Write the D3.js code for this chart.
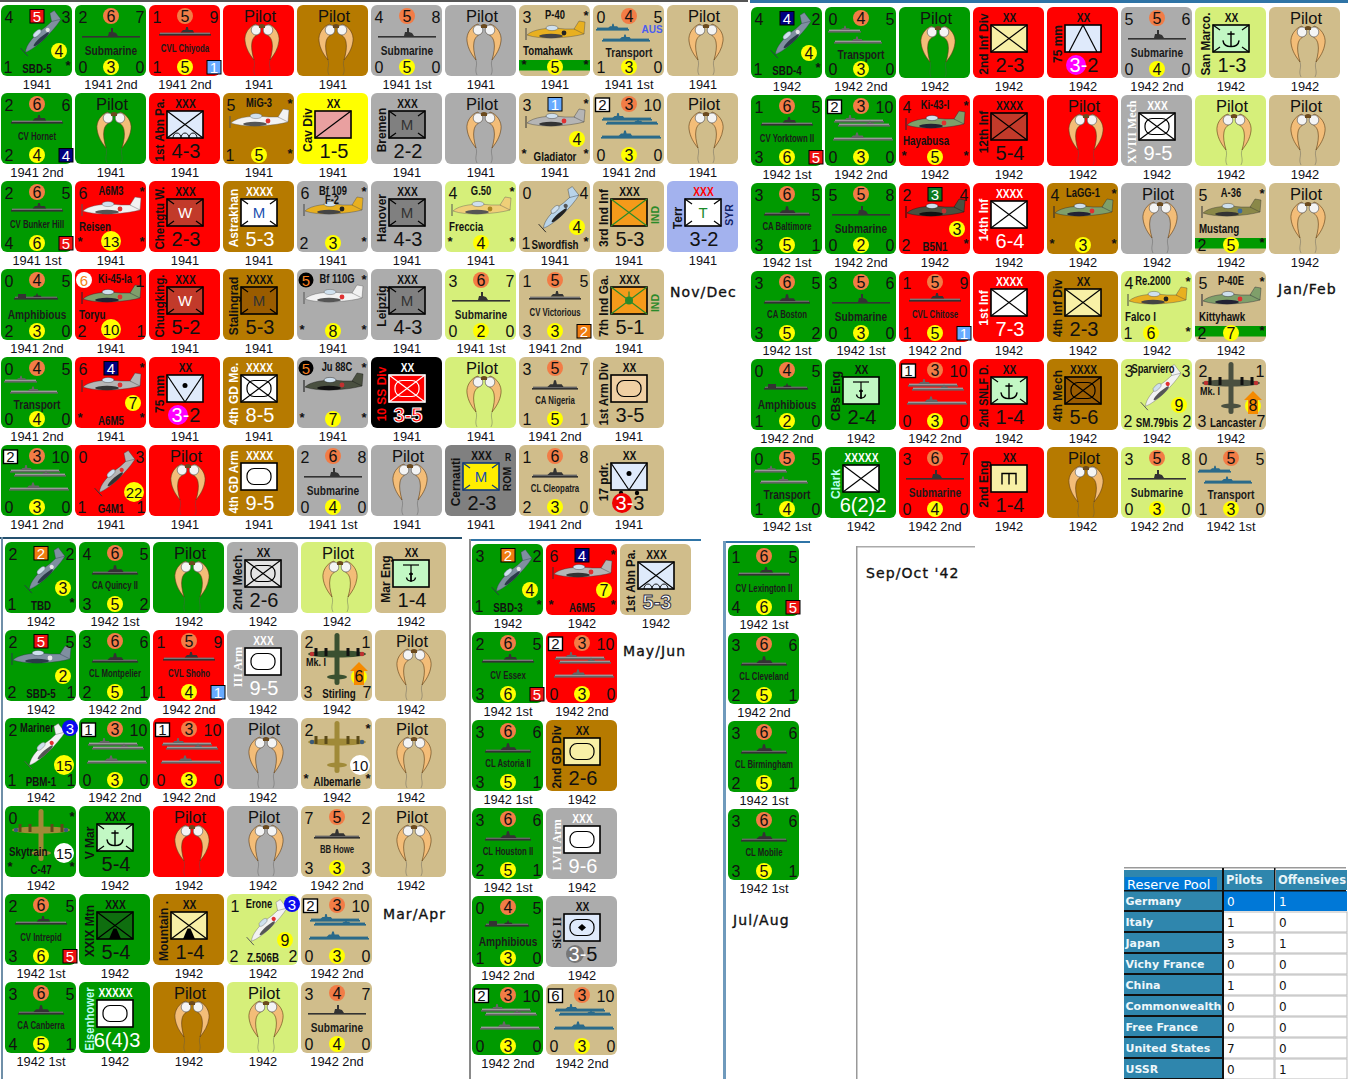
<!DOCTYPE html>
<html><head><meta charset="utf-8">
<script src="https://cdn.jsdelivr.net/npm/d3@7/dist/d3.min.js"></script>
<style>html,body{margin:0;padding:0;background:#fff}svg{display:block}</style>
</head><body><svg id="c" width="1348" height="1079"></svg>
<script>
// ---------- DATA ----------
const nations = ["us","jp","su","de","cw","it","cn","fr","ss","ro"];
const nationColors = ["#009a00","#ff0000","#b67a00","#acacac","#d0bd8b","#d6ef7a","#ffff00","#a3b2ee","#000000","#808080"];

// Ship tuple: S, nation, year, TL, offence, TR, BL, defence, BR, name, hull, badge
const novDec = [
[{k:"F",n:"us",y:"1941",tl:4,tr:3,bl:1,br:"*",bot:"SBD-5",yv:4,yp:"r",b:5,sh:"diag",p:"slate"},
 ["S","us","1941 2nd",2,6,7,0,3,0,"Submarine","sub"],
 ["S","jp","1941 2nd",1,5,9,1,5,"","CVL Chiyoda","cv",1],
 ["P","jp","1941"],["P","su","1941"],
 ["S","de","1941 1st",4,5,8,0,5,0,"Submarine","sub"],
 ["P","de","1941"],
 {k:"F",n:"cw",y:"1941",tl:3,tr:"*",top:"P-40",mid:"Tomahawk",yv:5,yp:"c",band:1,bls:"*",brs:"*",sh:"side",p:"camo"},
 ["S","cw","1941 1st",0,4,5,1,3,0,"Transport","tr",null,"AUS"],
 ["P","cw","1941"]],
[["S","us","1941 2nd",2,6,6,2,4,"","CV Hornet","cv",4],
 ["P","us","1941"],
 {k:"A",n:"jp",y:"1941",l:"1st Abn Pa.",z:"XXX",f:"#dfeafb",s:"abn",v:"4-3"},
 {k:"F",n:"su",y:"1941",tl:5,tr:"*",top:"MiG-3",bl:1,br:"*",yv:5,yp:"c",sh:"side",p:"white"},
 {k:"A",n:"cn",y:"1941",l:"Cav Div",z:"XX",f:"#e9a0a0",s:"cav",v:"1-5"},
 {k:"A",n:"de",y:"1941",l:"Bremen",z:"XXX",f:"#808080",s:"let",t:"M",tc:"#333",v:"2-2"},
 ["P","de","1941"],
 {k:"F",n:"cw",y:"1941",tl:3,tr:"*",bl:"*",br:"*",bot:"Gladiator",yv:4,yp:"r",b:1,sh:"side",p:"gray"},
 ["S","cw","1941 2nd",2,3,10,0,3,0,"","tr2",null,null,1],
 ["P","cw","1941"]],
[["S","us","1941 1st",2,6,5,4,6,"","CV Bunker Hill","cv",5],
 {k:"F",n:"jp",y:"1941",tl:6,tr:"*",top:"A6M3",mid:"Reisen",bl:"*",br:"*",yv:13,yp:"c",sh:"side",p:"white"},
 {k:"A",n:"jp",y:"1941",l:"Chengtu W.",z:"XXX",f:"#c23a2a",s:"let",t:"W",tc:"#fff",v:"2-3"},
 {k:"A",n:"su",y:"1941",l:"Astrakhan",lc:"#fff",z:"XXXX",zc:"#fff",f:"#fff",s:"let",t:"M",tc:"#1a50b0",v:"5-3",vc:"#fff"},
 {k:"F",n:"de",y:"1941",tl:6,tr:"*",top:"Bf 109",top2:"F-2",bl:2,br:"*",yv:3,yp:"c",sh:"side",p:"camo"},
 {k:"A",n:"de",y:"1941",l:"Hanover",z:"XXX",f:"#808080",s:"let",t:"M",tc:"#333",v:"4-3"},
 {k:"F",n:"it",y:"1941",tl:4,tr:"*",top:"G.50",mid:"Freccia",bl:"*",br:"*",yv:4,yp:"c",sh:"side",p:"tan"},
 {k:"F",n:"cw",y:"1941",tl:0,tr:4,bl:1,br:"*",bot:"Swordfish",yv:4,yp:"r",sh:"diag",p:"pale"},
 {k:"A",n:"cw",y:"1941",l:"3rd Ind Inf",z:"XXX",f:"#f59a1a",s:"inf",lc2:"#2a8a2a",v:"5-3",side:"IND",sc:"#2a8a2a"},
 {k:"A",n:"fr",y:"1941",l:"Terr",z:"XXX",zc:"#f00",f:"#fff",s:"let",t:"T",tc:"#1a8a2a",v:"3-2",side:"SYR",sc:"#112266"}],
[["S","us","1941 2nd",0,4,5,2,3,0,"Amphibious","am"],
 {k:"F",n:"jp",y:"1941",wc:6,top:"Ki-45-Ia",tr:1,mid:"Toryu",bl:2,br:1,yv:10,yp:"c",sh:"side",p:"green"},
 {k:"A",n:"jp",y:"1941",l:"Chungking.",z:"XXX",f:"#c23a2a",s:"let",t:"W",tc:"#fff",v:"5-2"},
 {k:"A",n:"su",y:"1941",l:"Stalingrad",z:"XXXX",f:"#9a5c00",s:"let",t:"M",tc:"#333",v:"5-3"},
 {k:"F",n:"de",y:"1941",kc:5,top:"Bf 110G",tr:"*",bl:"*",br:"*",yv:8,yp:"c",sh:"side",p:"white"},
 {k:"A",n:"de",y:"1941",l:"Leipzig",z:"XXX",f:"#808080",s:"let",t:"M",tc:"#333",v:"4-3"},
 ["S","it","1941 1st",3,6,7,0,2,0,"Submarine","sub"],
 ["S","cw","1941 2nd",1,5,5,3,3,"","CV Victorious","cv",2],
 {k:"A",n:"cw",y:"1941",l:"7th Ind Ga.",z:"XXX",f:"#f59a1a",s:"gd",lc2:"#2a8a2a",v:"5-1",side:"IND",sc:"#2a8a2a"}],
[["S","us","1941 2nd",0,4,5,0,4,0,"Transport","tr"],
 {k:"F",n:"jp",y:"1941",tl:6,tr:"*",bl:"*",br:"*",bot:"A6M5",yv:7,yp:"r",b:4,sh:"side",p:"gray"},
 {k:"A",n:"jp",y:"1941",l:"75 mm",z:"XX",f:"#dfeafb",s:"artV",v:"3-2",cc:"#ff00ff"},
 {k:"A",n:"su",y:"1941",l:"4th GD Me.",lc:"#fff",z:"XXXX",zc:"#fff",f:"#fff",s:"mech",v:"8-5",vc:"#fff"},
 {k:"F",n:"de",y:"1941",kc:5,top:"Ju 88C",tr:"*",bl:"*",br:"*",yv:7,yp:"c",sh:"side",p:"dark"},
 {k:"A",n:"ss",y:"1941",l:"10 SS Div",lc:"#f00",z:"XX",zc:"#fff",f:"#f00",s:"mech",lc2:"#fff",bc:"#fff",v:"3-5",vc:"#f00",ol:"#fff"},
 ["P","it","1941"],
 ["S","cw","1941 2nd",3,5,7,1,5,1,"CA Nigeria","ca"],
 {k:"A",n:"cw",y:"1941",l:"1st Arm Div",z:"XX",f:"#f0d0a4",s:"arm",v:"3-5"}],
[["S","us","1941 2nd",2,3,10,0,3,0,"","tr2",null,null,1],
 {k:"F",n:"jp",y:"1941",tl:0,tr:3,bl:1,br:1,bot:"G4M1",yv:22,yp:"r",sh:"diag",p:"gray"},
 ["P","jp","1941"],
 {k:"A",n:"su",y:"1941",l:"4th GD Arm",lc:"#fff",z:"XXXX",zc:"#fff",f:"#fff",s:"arm",v:"9-5",vc:"#fff"},
 ["S","de","1941 1st",2,6,8,0,4,0,"Submarine","sub"],
 ["P","de","1941"],
 {k:"A",n:"ro",y:"1941",l:"Cernauti",z:"XXX",f:"#ffee00",bc:"#123a7a",s:"let",t:"M",tc:"#1a50b0",v:"2-3",side:"ROM",sc:"#111",sideTop:"R"},
 ["S","cw","1941 2nd",1,6,8,2,3,0,"CL Cleopatra","ca"],
 {k:"A",n:"cw",y:"1941",l:"17 pdr.",z:"XX",f:"#dfeafb",s:"atk",v:"3-3",cc:"#f00000"}]
];

const janFeb = [
[{k:"F",n:"us",y:"1942",tl:4,tr:2,bl:1,br:"*",bot:"SBD-4",yv:4,yp:"r",b:4,sh:"diag",p:"slate"},
 ["S","us","1942 2nd",0,4,5,0,3,0,"Transport","tr"],
 ["P","us","1942"],
 {k:"A",n:"jp",y:"1942",l:"2nd Inf Div",z:"XX",f:"#f8f0a6",s:"inf",v:"2-3"},
 {k:"A",n:"jp",y:"1942",l:"75 mm",z:"XX",f:"#dfeafb",s:"artA",v:"3-2",cc:"#ff00ff"},
 ["S","de","1942 2nd",5,5,6,0,4,0,"Submarine","sub"],
 {k:"A",n:"it",y:"1942",l:"San Marco.",z:"XX",f:"#c2f8c4",s:"anc",v:"1-3"},
 ["P","cw","1942"]],
[["S","us","1942 1st",1,6,5,3,6,"","CV Yorktown II","cv",5],
 ["S","us","1942 2nd",2,3,10,0,3,0,"","tr2",null,null,1],
 {k:"F",n:"jp",y:"1942",tl:4,tr:"*",top:"Ki-43-I",mid:"Hayabusa",bl:"*",br:"*",yv:5,yp:"c",sh:"side",p:"green"},
 {k:"A",n:"jp",y:"1942",l:"12th Inf",z:"XXXX",f:"#c23a2a",s:"inf",v:"5-4"},
 ["P","jp","1942"],
 {k:"A",n:"de",y:"1942",l:"XVIII Mech",serif:1,lc:"#fff",z:"XXX",zc:"#fff",f:"#fff",s:"mech",v:"9-5",vc:"#fff"},
 ["P","it","1942"],
 ["P","cw","1942"]],
[["S","us","1942 1st",3,6,5,3,5,1,"CA Baltimore","ca"],
 ["S","us","1942 2nd",5,5,8,0,2,0,"Submarine","sub"],
 {k:"F",n:"jp",y:"1942",tl:2,tr:4,bl:2,br:"*",bot:"B5N1",yv:3,yp:"r",b:3,sh:"side",p:"dark"},
 {k:"A",n:"jp",y:"1942",l:"14th Inf",lc:"#fff",z:"XXXX",zc:"#fff",f:"#fff",s:"inf",v:"6-4",vc:"#fff"},
 {k:"F",n:"su",y:"1942",tl:4,tr:"*",top:"LaGG-1",bl:"*",br:"*",yv:3,yp:"c",sh:"side",p:"green"},
 ["P","de","1942"],
 {k:"F",n:"cw",y:"1942",tl:5,tr:"*",top:"A-36",mid:"Mustang",bl:2,brs:"*",yv:5,yp:"c",band:1,sh:"side",p:"olive"},
 ["P","cw","1942"]],
[["S","us","1942 1st",3,6,5,3,5,2,"CA Boston","ca"],
 ["S","us","1942 1st",3,5,6,0,3,0,"Submarine","sub"],
 ["S","jp","1942 2nd",1,5,9,1,5,"","CVL Chitose","cv",1],
 {k:"A",n:"jp",y:"1942",l:"1st Inf",lc:"#fff",z:"XXXX",zc:"#fff",f:"#fff",s:"inf",v:"7-3",vc:"#fff"},
 {k:"A",n:"su",y:"1942",l:"4th Inf Div",z:"XX",f:"#f8f0a6",s:"inf",v:"2-3"},
 {k:"F",n:"it",y:"1942",tl:4,tr:"*",top:"Re.2000",mid:"Falco I",bl:1,br:"*",yv:6,yp:"l",sh:"side",p:"camo"},
 {k:"F",n:"cw",y:"1942",tl:5,tr:"*",top:"P-40E",mid:"Kittyhawk",bl:2,brs:"*",yv:7,yp:"c",band:1,sh:"side",p:"green"}],
[["S","us","1942 2nd",0,4,5,1,2,0,"Amphibious","am"],
 {k:"A",n:"us",y:"1942",l:"CBs Eng",z:"XX",f:"#c2f8c4",s:"eanc",v:"2-4"},
 ["S","jp","1942 2nd",1,3,10,0,3,0,"","tr2",null,null,1],
 {k:"A",n:"jp",y:"1942",l:"2nd SNLF D.",z:"XX",f:"#c2f8c4",s:"anc",v:"1-4"},
 {k:"A",n:"su",y:"1942",l:"4th Mech",z:"XXXX",f:"#9a5c00",s:"mech",v:"5-6"},
 {k:"F",n:"it",y:"1942",tl:3,tr:3,top:"Sparviero",bl:2,br:2,bot:"SM.79bis",yv:9,yp:"r",sh:"diag",p:"white"},
 {k:"F",n:"cw",y:"1942",tl:2,tr:1,mid2:"Mk. I",bl:3,br:7,bot:"Lancaster",yv:8,yp:"r",arrow:1,sh:"top",p:"dark"}],
[["S","us","1942 1st",0,5,5,1,4,0,"Transport","tr"],
 {k:"A",n:"us",y:"1942",l:"Clark",lc:"#b8fff0",z:"XXXXX",zc:"#fff",f:"#fff",s:"inf",v:"6(2)2",vc:"#fff"},
 ["S","jp","1942 2nd",3,6,7,0,4,0,"Submarine","sub"],
 {k:"A",n:"jp",y:"1942",l:"2nd Eng",z:"XX",f:"#f8f0a6",s:"eng",v:"1-4"},
 ["P","su","1942"],
 ["S","it","1942 2nd",3,5,8,0,3,0,"Submarine","sub"],
 ["S","cw","1942 1st",0,5,5,1,3,0,"Transport","tr"]]
];

const marApr = [
[{k:"F",n:"us",y:"1942",tl:2,tr:2,bl:1,br:"*",bot:"TBD",yv:3,yp:"r",b:2,sh:"diag",p:"slate"},
 ["S","us","1942 1st",4,6,5,3,5,2,"CA Quincy II","ca"],
 ["P","us","1942"],
 {k:"A",n:"de",y:"1942",l:"2nd Mech .",z:"XX",f:"#e4e4e4",s:"mech",v:"2-6"},
 ["P","it","1942"],
 {k:"A",n:"cw",y:"1942",l:"Mar Eng",z:"XX",f:"#c2f8c4",s:"eanc",v:"1-4"}],
[{k:"F",n:"us",y:"1942",tl:2,tr:5,bl:2,br:1,bot:"SBD-5",yv:2,yp:"r",b:5,sh:"side",p:"slate"},
 ["S","us","1942 2nd",3,6,6,2,5,1,"CL Montpelier","ca"],
 ["S","jp","1942 2nd",1,5,9,1,4,"","CVL Shoho","cv",1],
 {k:"A",n:"de",y:"1942",l:"III Arm",serif:1,lc:"#fff",z:"XXX",zc:"#fff",f:"#fff",s:"arm",v:"9-5",vc:"#fff"},
 {k:"F",n:"cw",y:"1942",tl:2,tr:1,mid2:"Mk. I",bl:3,br:7,bot:"Stirling",yv:6,yp:"r",arrow:1,sh:"top",p:"darkgreen"},
 ["P","cw","1942"]],
[{k:"F",n:"us",y:"1942",tl:2,top:"Mariner",bc3:3,bl:1,br:1,bot:"PBM-1",yv:15,yp:"r",sh:"diag",p:"white"},
 ["S","us","1942 2nd",1,3,10,0,3,0,"","tr2",null,null,1],
 ["S","jp","1942 2nd",1,3,10,0,3,0,"","tr2",null,null,1],
 ["P","de","1942"],
 {k:"F",n:"cw",y:"1942",tl:2,tr:"*",bl:"*",br:"*",bot:"Albemarle",yv:10,yp:"r",yc:"#fff",sh:"top",p:"tanc"},
 ["P","cw","1942"]],
[{k:"F",n:"us",y:"1942",tl:0,tr:"*",mid:"Skytrain",bl:"*",br:"*",bot:"C-47",yv:15,yp:"r",yc:"#fff",sh:"top",p:"tanc"},
 {k:"A",n:"us",y:"1942",l:"V Mar",z:"XXX",f:"#c2f8c4",s:"anc",v:"5-4"},
 ["P","jp","1942"],
 ["P","de","1942"],
 ["S","cw","1942 2nd",7,5,2,3,3,3,"BB Howe","ca"],
 ["P","cw","1942"]],
[["S","us","1942 1st",2,6,5,3,6,"","CV Intrepid","cv",5],
 {k:"A",n:"us",y:"1942",l:"XXIX Mtn",z:"XXX",f:"#0f6e0f",s:"mtn",v:"5-4"},
 {k:"A",n:"su",y:"1942",l:"Mountain .",z:"XX",f:"#f8f0a6",s:"mtn",v:"1-4"},
 {k:"F",n:"it",y:"1942",tl:1,top:"Erone",bc3:3,bl:2,br:2,bot:"Z.506B",yv:9,yp:"r",sh:"diag",p:"white"},
 ["S","cw","1942 2nd",2,3,10,0,3,0,"","tr2",null,null,1]],
[["S","us","1942 1st",3,6,5,4,5,1,"CA Canberra","ca"],
 {k:"A",n:"us",y:"1942",l:"Eisenhower",lc:"#b8fff0",z:"XXXXX",zc:"#fff",f:"#fff",s:"arm",v:"6(4)3",vc:"#fff"},
 ["P","su","1942"],
 ["P","it","1942"],
 ["S","cw","1942 2nd",3,4,7,0,4,0,"Submarine","sub"]]
];

const mayJun = [
[{k:"F",n:"us",y:"1942",tl:3,tr:2,bl:1,br:"*",bot:"SBD-3",yv:4,yp:"r",b:2,sh:"diag",p:"slate"},
 {k:"F",n:"jp",y:"1942",tl:6,tr:"*",bl:"*",br:"*",bot:"A6M5",yv:7,yp:"r",b:4,sh:"side",p:"gray"},
 {k:"A",n:"cw",y:"1942",l:"1st Abn Pa.",z:"XXX",f:"#dfeafb",s:"abn",v:"5-3",vc:"#fff",ol:"#334"}],
[["S","us","1942 1st",2,6,5,3,6,"","CV Essex","cv",5],
 ["S","jp","1942 2nd",2,3,10,0,3,0,"","tr2",null,null,1]],
[["S","us","1942 1st",3,6,6,3,5,1,"CL Astoria II","ca"],
 {k:"A",n:"su",y:"1942",l:"2nd GD Div",z:"XX",f:"#f8f0a6",s:"arm",v:"2-6"}],
[["S","us","1942 1st",3,6,6,2,5,1,"CL Houston II","ca"],
 {k:"A",n:"de",y:"1942",l:"LVII Arm",serif:1,lc:"#fff",z:"XXX",zc:"#fff",f:"#fff",s:"arm",v:"9-6",vc:"#fff"}],
[["S","us","1942 2nd",0,4,5,1,3,0,"Amphibious","am"],
 {k:"A",n:"de",y:"1942",l:"SiG II",serif:1,z:"XX",f:"#dfeafb",s:"sig",v:"3-5",cc:"#777"}],
[["S","us","1942 2nd",2,3,10,0,3,0,"","tr2",null,null,1],
 ["S","cw","1942 2nd",6,3,10,0,3,0,"","tr2",null,null,1]]
];

const julAug = [
[["S","us","1942 1st",1,6,5,4,6,"","CV Lexington II","cv",5]],
[["S","us","1942 2nd",3,6,6,2,5,1,"CL Cleveland","ca"]],
[["S","us","1942 1st",3,6,6,2,5,1,"CL Birmingham","ca"]],
[["S","us","1942 1st",3,6,6,3,5,1,"CL Mobile","ca"]]
];

const turnLabels = ["Nov/Dec","Jan/Feb","Mar/Apr","May/Jun","Jul/Aug","Sep/Oct '42"];
const reserveNations = ["Germany","Italy","Japan","Vichy France","China","Commonwealth","Free France","United States","USSR"];
const reservePilots = [0,1,3,0,1,0,0,7,0];
const reserveOffensives = [1,0,1,0,0,0,0,0,1];
const reserveHeaders = ["Reserve Pool","Pilots","Offensives"];

// ---------- LAYOUT ----------
const panels = [
 {rows:novDec, x0:1,  y0:5,   label:[670,297]},
 {rows:janFeb, x0:751,y0:7,   label:[1278,294]},
 {rows:marApr, x0:5,  y0:542, label:[383,919]},
 {rows:mayJun, x0:472,y0:544, label:[623,656]},
 {rows:julAug, x0:728,y0:545, label:[733,925]},
 {rows:[],     x0:866,y0:546, label:[866,578]}
];
const SIZE=71, PITCHX=74, PITCHY=88;
const SANS="'Liberation Sans',Arial,sans-serif", NARROW="narrow", SERIF="'Liberation Serif',serif";
const fillOf = d3.scaleOrdinal().domain(nations).range(nationColors);
const badgeFill = d3.scaleOrdinal().domain([1,2,3,4,5]).range(["#66aaff","#f07c10","#0b7a20","#000080","#ee1111"]);
const svg = d3.select("#c");

// ---------- HELPERS ----------
function txt(g,x,y,t,o={}){
  const narrow=o.ff===NARROW;
  const e=g.append("text").attr("x",x).attr("y",y).attr("dy","0.36em").attr("text-anchor",o.a||"middle")
   .attr("font-family",narrow?SANS:(o.ff||SANS)).attr("font-size",o.fs||16).attr("font-weight",o.b?"bold":"normal")
   .attr("fill",o.c||"#111").text(t);
  if(narrow) e.attr("textLength",(e.node().getComputedTextLength()*0.78).toFixed(1)).attr("lengthAdjust","spacingAndGlyphs");
  return e;
}
function circ(g,x,y,r,f){g.append("circle").attr("cx",x).attr("cy",y).attr("r",r).attr("fill",f);}
function valueCircle(g,x,y,v,fill){
  const big=String(v).length>1;
  const r=big?10:8;
  circ(g,x,y,r,fill||"#ffff00");
  txt(g,x,y+.5,v,{fs:big?15:16});
}
function badge(g,cx,cy,v){
  g.append("rect").attr("x",cx-7).attr("y",cy-6.5).attr("width",14).attr("height",13.5)
   .attr("fill",badgeFill(v)).attr("stroke","#000").attr("stroke-width",1);
  txt(g,cx,cy+.5,v,{fs:15,c:"#fff"});
}
function whiteBadge(g,v){
  g.append("rect").attr("x",2.5).attr("y",5).attr("width",14).attr("height",13.5)
   .attr("fill","#fff").attr("stroke","#000").attr("stroke-width",1.4);
  txt(g,9.5,12,v,{fs:15});
}
function star(g,x,y){txt(g,x,y+2,"*",{fs:13,b:1});}

// Pilot goggles and helmet
const helmet="M33,19 C26,21 21,29 22,36 C23,44 27,50 31,55 C29,48 28,42 29,37 C30,32 33,30 37,28 Z";
function pilot(g,d){
  txt(g,37,11,"Pilot",{fs:16.5});
  [0,1].forEach(m=>{
    const h=g.append("g").attr("transform",m?"translate(78,0) scale(-1,1)":null);
    h.append("path").attr("d",helmet).attr("fill","#f3bd78").attr("stroke","#5c3a12").attr("stroke-width",.6);
    h.append("path").attr("d","M31,55 C33,61 29,64 32,70").attr("fill","none").attr("stroke","#555").attr("stroke-opacity",.5).attr("stroke-width",.8);
    h.append("ellipse").attr("cx",33).attr("cy",25).attr("rx",4.8).attr("ry",5).attr("fill","#f4f4f4").attr("stroke","#666").attr("stroke-width",.7);
  });
  g.append("path").attr("d","M36,20 Q39,18 42,20 L42,23 L36,23Z").attr("fill","#6b4a1e");
}

// Ship silhouettes
function hull(g,x,y,w,col,deck){
  g.append("rect").attr("x",x).attr("y",y).attr("width",w).attr("height",1.6).attr("fill",col);
  if(deck) g.append("rect").attr("x",x+1).attr("y",y-1.4).attr("width",w-2).attr("height",1.4).attr("fill",deck);
}
function superstructure(g,x,y,col,s=1){
  g.append("path").attr("d",`M${x-8*s},${y} L${x-5*s},${y-3*s} L${x-2*s},${y-3*s} L${x-1*s},${y-7*s} L${x+1*s},${y-7*s} L${x+2*s},${y-3*s} L${x+7*s},${y-3*s} L${x+9*s},${y}Z`).attr("fill",col);
}
function ship(g,d){
  const [ ,n,,tl,of,tr,bl,df,br,name,h,b,ext,wb]=d;
  const cw=(n==="cw");
  const col="#333", steel=cw?"#2a6a8a":"#666", deck=cw?"#2a6a8a":"#9a9a9a";
  if(wb) whiteBadge(g,tl); else txt(g,8,12,tl);
  circ(g,36,11,8,"#f27c46"); txt(g,36,11.5,of);
  txt(g,tr>=10?59.5:65,12,tr);
  txt(g,8,62,bl); circ(g,36,62,8,"#ffff00"); txt(g,36,62.5,df);
  if(b) badge(g,65,62,b); else txt(g,65,62,br);
  if(h==="sub"){ hull(g,7,31,58,col); g.append("path").attr("d","M33,31 L34,27 L36,27 L36,23 L38,23 L38,27 L41,28 L43,31Z").attr("fill",col); }
  if(h==="cv"){ hull(g,10,29,52,col,"#777"); superstructure(g,38,27.5,col,.8); }
  if(h==="ca"){ hull(g,13,31,46,col,"#666"); superstructure(g,36,30,col,.95); }
  if(h==="am"){ hull(g,13,29,44,col,"#666"); g.append("rect").attr("x",17).attr("y",25).attr("width",8).attr("height",4).attr("fill",col); superstructure(g,36,28,col,.5); }
  if(h==="tr"){ hull(g,3,24,33,steel,deck); superstructure(g,20,23,steel,.6); hull(g,9,35,48,steel,deck); superstructure(g,32,34,steel,.65); }
  if(h==="tr2"){
    hull(g,9,26,50,steel,deck); superstructure(g,25,25,steel,.7); hull(g,13,30,52,steel,deck);
    superstructure(g,45,29,steel,.45); hull(g,8,44,60,steel,deck); superstructure(g,32,43,steel,.8);
  }
  if(name){
    const bigName=["sub","tr","am"].includes(h);
    txt(g,36,h==="tr"?47:(bigName?45:43),name,{ff:NARROW,b:1,fs:bigName?13:10,c:"#1a1a1a"});
  }
  if(ext) txt(g,59,24,ext,{fs:10,b:1,c:"#4a5ef0"});
}

// Plane silhouettes
const planePalette={
 slate:["#7f8fa0","#e8e8e8","#2a3a48"], camo:["#e8b020","#222","#444"], white:["#f2f2f2","#e03030","#555"],
 gray:["#b5b5b5","#e03030","#333"], tan:["#efcf78","#aa8820","#555"], pale:["#b9d4ea","#555","#222"],
 green:["#7f9f6a","#e03030","#223"], dark:["#4a5040","#c03030","#111"], olive:["#8a8848","#3a6aa0","#333"],
 darkgreen:["#3a5030","#c03030","#111"], tanc:["#a08a38","#3a5a7a","#5a4a18"]
};
function plane(g,d){
  const [body,acc,dk]=planePalette[d.p];
  if(d.sh==="side"||d.sh==="diag"){
    const tf=d.sh==="side"?"translate(36,28)":"translate(41,30) rotate(-42) scale(.85,.9)";
    const p=g.append("g").attr("transform",tf);
    p.append("path").attr("d","M-28,2 C-22,-4 -6,-6 10,-4 L26,-4 L29,1 C15,5 -15,7 -28,2Z").attr("fill",body).attr("stroke",dk).attr("stroke-width",.4);
    p.append("path").attr("d","M19,-4 L24,-12 L30,-11 L29,1Z").attr("fill",body).attr("stroke",dk).attr("stroke-width",.4);
    p.append("ellipse").attr("cx",-3).attr("cy",-5).attr("rx",6).attr("ry",2.6).attr("fill","#cfe0ee").attr("stroke",dk).attr("stroke-width",.4);
    p.append("ellipse").attr("cx",-4).attr("cy",3).attr("rx",12).attr("ry",2.2).attr("fill",dk);
    p.append("circle").attr("cx",9).attr("cy",0).attr("r",2.4).attr("fill",acc);
    p.append("line").attr("x1",-29).attr("x2",-29).attr("y1",-5).attr("y2",7).attr("stroke",dk).attr("stroke-width",1);
  } else {
    g.append("ellipse").attr("cx",36).attr("cy",24).attr("rx",29).attr("ry",3.6).attr("fill",body);
    g.append("ellipse").attr("cx",36).attr("cy",47).attr("rx",10).attr("ry",2.4).attr("fill",body);
    g.append("rect").attr("x",33.5).attr("y",3).attr("width",5).attr("height",52).attr("rx",2.5).attr("fill",body);
    [-21,-11,11,21].forEach(o=>g.append("rect").attr("x",34.5+o).attr("y",18).attr("width",3).attr("height",8).attr("fill",dk));
    [-25,25].forEach(o=>circ(g,36+o,24,2.2,acc));
  }
  if(d.band) g.append("rect").attr("x",0).attr("y",55).attr("width",SIZE).attr("height",10.5).attr("fill","#009a00");
  if(d.tl!==undefined) txt(g,8,12,d.tl);
  if(d.kc){ circ(g,9,11,7.5,"#000"); txt(g,9,11.5,d.kc,{fs:15,c:"#f58020"}); }
  if(d.wc){ circ(g,9,11,8,"#fff"); txt(g,9,11.5,d.wc,{fs:15,c:"#f58020"}); }
  if(d.b) badge(g,36,11,d.b);
  if(d.tr==="*") star(g,67,8); else if(d.tr!==undefined) txt(g,65,12,d.tr);
  if(d.bc3){ circ(g,65,10,8,"#0a0af0"); txt(g,65,10.5,d.bc3,{fs:15,c:"#fff"}); }
  if(d.top){
    const tx=(d.wc||d.kc)?40:(d.bc3||d.top.length>7||d.top==="Re.2000"?32:36);
    txt(g,tx,10,d.top,{ff:NARROW,b:1,fs:12});
  }
  if(d.top2) txt(g,35,19,d.top2,{ff:NARROW,b:1,fs:12});
  if(d.mid) txt(g,4,45,d.mid,{ff:NARROW,b:1,fs:12.5,a:"start"});
  if(d.mid2) txt(g,5,32,d.mid2,{ff:NARROW,b:1,fs:11.5,a:"start"});
  if(d.bot) txt(g,d.bl!==undefined&&d.bl!=="*"&&d.sh==="top"?38:36,63,d.bot,{ff:NARROW,b:1,fs:12.5});
  if(d.bl==="*") star(g,5,58); else if(d.bl!==undefined) txt(g,7,62,d.bl);
  if(d.br==="*") star(g,67,58); else if(d.br!==undefined) txt(g,66,62,d.br);
  if(d.bls) star(g,5,57);
  if(d.brs) star(g,67,57);
  if(d.yv!==undefined){
    const big=String(d.yv).length>1;
    const x=d.yp==="r"?(big?59:58):(d.yp==="l"?30:36), y=d.yp==="r"?(big?47:46):(big?60:62);
    if(d.arrow){ circ(g,x,y+1,8,"#ffff00");
      g.append("path").attr("d",`M${x},${y-14} L${x+9},${y-5} L${x+5},${y-5} L${x+5},${y+9} L${x-5},${y+9} L${x-5},${y-5} L${x-9},${y-5}Z`).attr("fill","#f58a00");
      txt(g,x,y,d.yv,{fs:16});
    } else valueCircle(g,x,y,d.yv,d.yc);
  }
}

// Unit symbols
function anchor(b,cx,cy,s,c){
  b.append("path").attr("d",`M${cx},${cy-8*s} L${cx},${cy+9*s} M${cx-9*s},${cy+2*s} Q${cx-8*s},${cy+9*s} ${cx},${cy+9*s} Q${cx+8*s},${cy+9*s} ${cx+9*s},${cy+2*s} M${cx-4*s},${cy-5*s} L${cx+4*s},${cy-5*s}`)
   .attr("fill","none").attr("stroke",c).attr("stroke-width",1.4);
}
function army(g,d){
  const X=18,Y=18,W=36,H=27;
  const bc=d.bc||"#000", lc=d.lc2||bc;
  const lab=txt(g,11,37,d.l,{ff:d.serif?SERIF:SANS,b:1,fs:12,c:d.lc||"#111"}).attr("transform","rotate(-90 11 37)");
  if(lab.node().getComputedTextLength()>63) lab.attr("textLength",63).attr("lengthAdjust","spacingAndGlyphs");
  txt(g,36.5,10,d.z,{ff:NARROW,b:1,fs:13,c:d.zc||"#111"});
  const f=g.append("g");
  f.append("rect").attr("x",X).attr("y",Y).attr("width",W).attr("height",H).attr("fill",d.f).attr("stroke",bc).attr("stroke-width",1.6);
  const line=(a,b,c,e)=>f.append("line").attr("x1",a).attr("y1",b).attr("x2",c).attr("y2",e).attr("stroke",lc).attr("stroke-width",1.2);
  const x2=X+W,y2=Y+H,mx=X+W/2,my=Y+H/2;
  if(["inf","abn","mech","gd","mtn"].includes(d.s)){ line(X,Y,x2,y2); line(x2,Y,X,y2); }
  if(d.s==="cav") line(X,y2,x2,Y);
  if(d.s==="abn") [mx-8,mx,mx+8].forEach(x=>f.append("path").attr("d",`M${x-4},${y2} A4,5 0 0 1 ${x+4},${y2}`).attr("fill","none").attr("stroke",bc).attr("stroke-width",.9));
  if(d.s==="mech"||d.s==="arm"||d.s==="sig") f.append("rect").attr("x",X+6).attr("y",Y+5.5).attr("width",W-12).attr("height",H-11).attr("rx",7).attr("fill","none").attr("stroke",lc).attr("stroke-width",1.2);
  if(d.s==="sig") f.append("path").attr("d",`M${mx},${my-3.5} L${mx+4},${my} L${mx},${my+3.5} L${mx-4},${my}Z`).attr("fill","#000");
  if(d.s==="gd"){ circ(f,mx,my,4,lc); line(mx,my-9,mx,my); }
  if(d.s==="mtn") f.append("path").attr("d",`M${mx-6},${y2} L${mx-1.5},${my+3} L${mx+1.5},${my+3} L${mx+6},${y2}Z`).attr("fill","#000");
  if(d.s==="let"||d.s==="anc"){ [[X,Y,1,1],[x2,Y,-1,1],[X,y2,1,-1],[x2,y2,-1,-1]].forEach(([a,b,p,q])=>line(a,b,a+7*p,b+5*q)); }
  if(d.s==="let") txt(f,mx,my,d.t,{fs:15,c:d.tc});
  if(d.s==="anc") anchor(f,mx,my,.9,"#000");
  if(d.s==="eanc"){ line(mx-8,Y+5,mx+8,Y+5); line(mx,Y+5,mx,y2-5); anchor(f,mx,my+3,.5,"#000"); }
  if(d.s==="eng"){ f.append("path").attr("d",`M${mx-7},${my+6} L${mx-7},${my-5} L${mx+7},${my-5} L${mx+7},${my+6} M${mx},${my-5} L${mx},${my+6}`).attr("fill","none").attr("stroke","#000").attr("stroke-width",1.4); }
  if(d.s==="artV"||d.s==="atk"){ line(X,Y,mx,y2); line(x2,Y,mx,y2); circ(f,mx,my-3,2.5,"#000"); }
  if(d.s==="artA"){ line(X+4,y2,mx,Y); line(x2-4,y2,mx,Y); }
  if(d.s==="atk"){ circ(f,mx-8,y2+3,2.2,"#000"); circ(f,mx+8,y2+3,2.2,"#000"); }
  if(d.side){ const s=txt(g,62,34,d.side,{b:1,fs:10.5,c:d.sc}); s.attr("transform",`rotate(-90 62 34)`); }
  if(d.sideTop) txt(g,63,12,d.sideTop,{b:1,fs:11,ff:NARROW,c:"#111"});
  const sx=d.v.length>3?38:37;
  if(d.cc) circ(g,sx-8,58,d.cc==="#777"?9:10,d.cc);
  const sv=txt(g,sx,58,null,{fs:20,c:d.vc||"#111"});
  if(d.cc){
    sv.append("tspan").attr("fill","#fff").text(d.v.slice(0,2));
    sv.append("tspan").text(d.v.slice(2));
  } else sv.text(d.v);
  if(d.ol) sv.attr("stroke",d.ol).attr("stroke-width",1).attr("font-weight","bold");
}

// ---------- DRAW ----------
panels.forEach((pn,pi)=>{
  const sx=d3.scaleLinear().domain([0,1]).range([pn.x0,pn.x0+PITCHX]);
  const sy=d3.scaleLinear().domain([0,1]).range([pn.y0,pn.y0+PITCHY]);
  pn.rows.forEach((row,ri)=>{
    const rowG=svg.append("g").attr("class","row");
    rowG.selectAll("g.counter").data(row).join("g").attr("class","counter")
      .attr("transform",(d,i)=>`translate(${sx(i)},${sy(ri)})`)
      .each(function(d){
        const g=d3.select(this);
        const kind=Array.isArray(d)?d[0]:d.k, nat=Array.isArray(d)?d[1]:d.n, yr=Array.isArray(d)?d[2]:d.y;
        g.append("rect").attr("width",SIZE).attr("height",SIZE).attr("rx",6).attr("fill",fillOf(nat));
        if(kind==="P") pilot(g,d);
        if(kind==="S") ship(g,d);
        if(kind==="F") plane(g,d);
        if(kind==="A") army(g,d);
        txt(g,36,79.5,yr,{fs:12.8,c:"#101018"});
      });
  });
  svg.append("text").attr("x",pn.label[0]).attr("y",pn.label[1]).attr("font-family","'DejaVu Sans',Verdana,sans-serif")
    .attr("font-size",14).attr("letter-spacing",1.1).attr("fill","#111").attr("stroke","#111").attr("stroke-width",.35).text(turnLabels[pi]);
});

// Panel rules
const rules=[
 [0,0,748,2,"#555"],[750,0,598,3,"#2f74a6"],
 [0,537,462,2,"#24506e"],[1,537,2,542,"#6f8fa8"],
 [469,539,232,2,"#2f74a6"],[469,539,2,540,"#8a8a8a"],
 [723,541,87,2,"#2f74a6"],[723,541,3,538,"#6f9abc"],
 [856,546,119,1.5,"#aaa"],[856,546,1.5,533,"#999"]
];
svg.selectAll("rect.rule").data(rules).join("rect").attr("class","rule")
  .attr("x",d=>d[0]).attr("y",d=>d[1]).attr("width",d=>d[2]).attr("height",d=>d[3]).attr("fill",d=>d[4]);

// Reserve pool table
const T=svg.append("g");
const colX=d3.scaleOrdinal().domain([0,1,2]).range([1124,1224,1276]);
const colW=[98,50,71];
const rowY=d3.scaleBand().domain(d3.range(reserveNations.length)).range([890,1079]).paddingInner(0);
const VERD="'DejaVu Sans',Verdana,sans-serif";
T.append("rect").attr("x",1124).attr("y",867).attr("width",222).attr("height",1.5).attr("fill","#999");
const defs=svg.append("defs");
colW.forEach((w,i)=>defs.append("clipPath").attr("id","cp"+i).append("rect").attr("x",colX(i)).attr("y",860).attr("width",w).attr("height",219));
colW.forEach((w,i)=>{
  T.append("rect").attr("x",colX(i)).attr("y",870).attr("width",w).attr("height",20).attr("fill","#2f86ad");
});
T.append("rect").attr("x",1125).attr("y",877).attr("width",92).attr("height",16).attr("fill","#0078d7");
T.append("rect").attr("x",1125).attr("y",892).attr("width",92).attr("height",1.5).attr("fill","#fff");
T.append("text").attr("x",1127).attr("y",889).attr("font-family",VERD).attr("font-size",13).attr("fill","#fff").text(reserveHeaders[0]);
[1,2].forEach(i=>T.append("text").attr("x",colX(i)+2).attr("y",884).attr("font-family",VERD).attr("font-size",11.5).attr("font-weight","bold").attr("fill","#e8f4f8").attr("clip-path",`url(#cp${i})`).text(reserveHeaders[i]));
reserveNations.forEach((nm,i)=>{
  const y=rowY(i)+1, h=rowY.bandwidth()-1;
  T.append("rect").attr("x",1124).attr("y",y).attr("width",98).attr("height",h-1).attr("fill","#2f86ad");
  T.append("rect").attr("x",1124).attr("y",y+h-1).attr("width",98).attr("height",2).attr("fill","#111");
  T.append("text").attr("x",1125.5).attr("y",y+14).attr("font-family",VERD).attr("font-size",11).attr("font-weight","bold").attr("fill","#eef7fa").attr("clip-path","url(#cp0)").text(nm);
  const sel=i===0;
  [[1,reservePilots[i]],[2,reserveOffensives[i]]].forEach(([c,v])=>{
    T.append("rect").attr("x",colX(c)-1).attr("y",y).attr("width",colW[c]+1).attr("height",h).attr("fill",sel?"#0078d7":"#fff").attr("stroke",sel?"none":"#bbb").attr("stroke-width",1);
    T.append("text").attr("x",colX(c)+3).attr("y",y+14.5).attr("font-family",VERD).attr("font-size",12).attr("fill",sel?"#fff":"#111").text(v);
  });
});
T.append("rect").attr("x",1222).attr("y",868).attr("width",2).attr("height",211).attr("fill","#111");
T.append("rect").attr("x",1274).attr("y",868).attr("width",1.5).attr("height",22).attr("fill","#111");
T.append("rect").attr("x",1124).attr("y",890).attr("width",222).attr("height",1.5).attr("fill","#111");
</script></body></html>
